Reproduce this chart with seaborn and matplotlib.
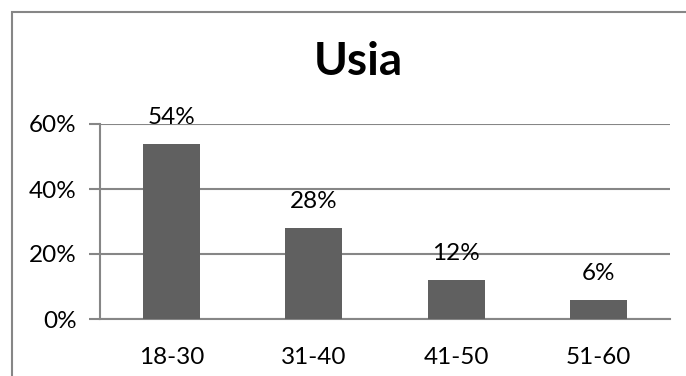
import matplotlib
matplotlib.use("Agg")
import matplotlib.pyplot as plt
from matplotlib.patches import Rectangle
import seaborn as sns
import pandas as pd

# Age groups and their share of respondents
categories = ["18-30", "31-40", "41-50", "51-60"]
shares = [0.54, 0.28, 0.12, 0.06]
y_ticks = [0.0, 0.2, 0.4, 0.6]
y_tick_labels = ["0%", "20%", "40%", "60%"]
title = "Usia"

sns.set_style("white")
plt.rcParams["font.family"] = ["Lato", "DejaVu Sans"]

W, H, DPI = 686, 376, 100
fig = plt.figure(figsize=(W / DPI, H / DPI), dpi=DPI)
fig.patch.set_facecolor("white")

# plot area in pixel coordinates
left_px, right_px, top_px, bottom_px = 100, 670, 124, 319
ax = fig.add_axes([left_px / W, 1 - bottom_px / H,
                   (right_px - left_px) / W, (bottom_px - top_px) / H])

df = pd.DataFrame({"group": categories, "share": shares})
bar_color = "#606060"
sns.barplot(data=df, x="group", y="share", color=bar_color, width=0.4,
            saturation=1, ax=ax, zorder=3)
for p in ax.patches:
    p.set_linewidth(0)

grid_color = "#868686"
label_size = 17.5
ax.set_ylim(0, 0.6)
ax.set_xlim(-0.5, len(categories) - 0.5)
ax.set_yticks(y_ticks)
ax.set_yticklabels(y_tick_labels, fontsize=label_size, color="black")
ax.yaxis.grid(True, color=grid_color, linewidth=1.5, zorder=0)
ax.set_axisbelow(True)
ax.set_xlabel("")
ax.set_ylabel("")
ax.tick_params(axis="x", which="major", length=0, pad=20, labelsize=label_size,
               labelcolor="black")
ax.set_xticks([i - 0.5 for i in range(len(categories) + 1)], minor=True)
ax.tick_params(axis="x", which="minor", length=8, width=1.5, color=grid_color,
               direction="out")
ax.tick_params(axis="y", length=8, width=1.5, color=grid_color, pad=9,
               direction="out", left=True)

for side in ["top", "right"]:
    ax.spines[side].set_visible(False)
for side in ["left", "bottom"]:
    ax.spines[side].set_color(grid_color)
    ax.spines[side].set_linewidth(1.5)

# value labels above each bar
for i, v in enumerate(shares):
    ax.annotate(f"{round(v * 100)}%", xy=(i, v), xytext=(0, 26),
                textcoords="offset pixels", ha="center", va="center",
                fontsize=label_size, color="black", annotation_clip=False)

fig.text(358 / W, 1 - 62 / H, title, ha="center", va="center",
         fontsize=33, fontweight="bold", color="black")

# chart frame
fig.patches.append(Rectangle((12 / W, -0.1), 1.2, 1 - 12 / H + 0.1,
                             transform=fig.transFigure, fill=False,
                             edgecolor=grid_color, linewidth=1.5))

fig.savefig("out.png", dpi=DPI)
